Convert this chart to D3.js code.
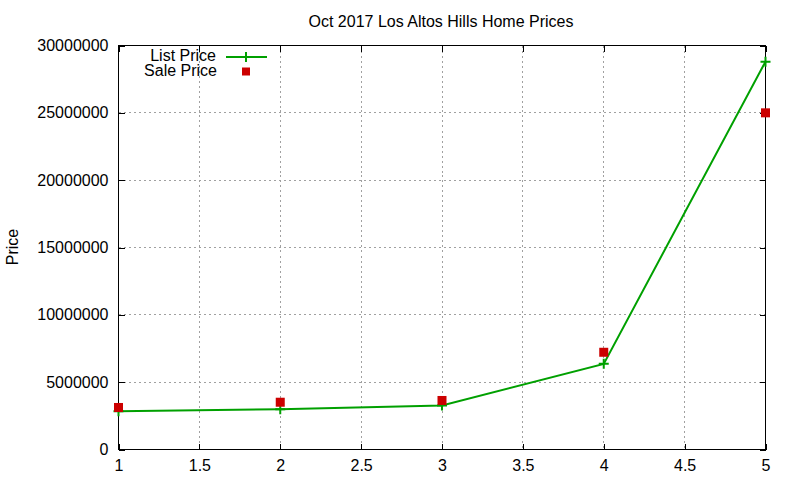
<!DOCTYPE html>
<html>
<head>
<meta charset="utf-8">
<script src="https://cdn.jsdelivr.net/npm/d3@7"></script>
<style>
  body { margin: 0; background: #fff; }
  text { font-family: "Liberation Sans", Arial, sans-serif; font-size: 16px; fill: #000; }
</style>
</head>
<body>
<script>
// data
var houses = [1, 2, 3, 4, 5];
var listPrice = [2840000, 2990000, 3270000, 6360000, 28800000];
var salePrice = [3120000, 3510000, 3640000, 7220000, 25000000];
var xTicks = [1, 1.5, 2, 2.5, 3, 3.5, 4, 4.5, 5];
var yTicks = [0, 5000000, 10000000, 15000000, 20000000, 25000000, 30000000];

var width = 800, height = 480;
var plotLeft = 118.5, plotRight = 765.5, plotTop = 45.5, plotBottom = 449.5;
var green = "#00a000", red = "#cc0000";

var svg = d3.select("body")
    .append("svg")
    .attr("width", width)
    .attr("height", height);

var x = d3.scaleLinear().domain([1, 5]).range([plotLeft, plotRight]);
var y = d3.scaleLinear().domain([0, 30000000]).range([plotBottom, plotTop]);

// grid
svg.selectAll("line.xgrid")
    .data(xTicks.slice(1, -1)).enter()
    .append("line")
    .attr("class", "xgrid")
    .attr("x1", function(d){ return x(d); })
    .attr("x2", function(d){ return x(d); })
    .attr("y1", plotTop)
    .attr("y2", plotBottom)
    .attr("stroke", "#a0a0a0")
    .attr("stroke-dasharray", "2,3")
    .attr("shape-rendering", "crispEdges");

svg.selectAll("line.ygrid")
    .data(yTicks.slice(1, -1)).enter()
    .append("line")
    .attr("class", "ygrid")
    .attr("x1", plotLeft)
    .attr("x2", plotRight)
    .attr("y1", function(d){ return y(d); })
    .attr("y2", function(d){ return y(d); })
    .attr("stroke", "#a0a0a0")
    .attr("stroke-dasharray", "2,3")
    .attr("shape-rendering", "crispEdges");

// axes (ticks inward, mirrored)
var fmt = function(d){ return String(d); };
svg.append("g")
    .attr("transform", "translate(0," + plotBottom + ")")
    .call(d3.axisBottom(x).tickValues(xTicks).tickFormat(fmt).tickSizeInner(-6).tickSizeOuter(0).tickPadding(10));
svg.append("g")
    .attr("transform", "translate(0," + plotTop + ")")
    .call(d3.axisTop(x).tickValues(xTicks).tickFormat("").tickSizeInner(-6).tickSizeOuter(0));
svg.append("g")
    .attr("transform", "translate(" + plotLeft + ",0)")
    .call(d3.axisLeft(y).tickValues(yTicks).tickFormat(fmt).tickSizeInner(-6).tickSizeOuter(0).tickPadding(10));
svg.append("g")
    .attr("transform", "translate(" + plotRight + ",0)")
    .call(d3.axisRight(y).tickValues(yTicks).tickFormat("").tickSizeInner(-6).tickSizeOuter(0));

svg.selectAll(".domain").remove();
svg.selectAll(".tick line").attr("stroke", "#000").attr("shape-rendering", "crispEdges");
svg.selectAll(".tick text")
    .attr("fill", "#000")
    .style("font-size", "16px")
    .style("font-family", "'Liberation Sans', Arial, sans-serif");

// frame
svg.append("rect")
    .attr("x", plotLeft)
    .attr("y", plotTop)
    .attr("width", plotRight - plotLeft)
    .attr("height", plotBottom - plotTop)
    .attr("fill", "none")
    .attr("stroke", "#000")
    .attr("stroke-width", 1)
    .attr("shape-rendering", "crispEdges");

// list price line
var line = d3.line()
    .x(function(d, i){ return x(houses[i]); })
    .y(function(d){ return y(d); });

svg.append("path")
    .datum(listPrice)
    .attr("d", line)
    .attr("fill", "none")
    .attr("stroke", green)
    .attr("stroke-width", 2);

function plus(g, cx, cy) {
    g.append("path")
        .attr("d", "M" + (cx - 5) + "," + cy + "H" + (cx + 5) + "M" + cx + "," + (cy - 5) + "V" + (cy + 5))
        .attr("stroke", green)
        .attr("stroke-width", 2)
        .attr("fill", "none");
}

listPrice.forEach(function(d, i){ plus(svg, x(houses[i]), y(d)); });

// sale price squares
svg.selectAll("rect.sale")
    .data(salePrice).enter()
    .append("rect")
    .attr("class", "sale")
    .attr("x", function(d, i){ return x(houses[i]) - 4.5; })
    .attr("y", function(d){ return y(d) - 4.5; })
    .attr("width", 9)
    .attr("height", 9)
    .attr("fill", red);

// title and axis label
svg.append("text")
    .attr("x", 441)
    .attr("y", 27)
    .attr("text-anchor", "middle")
    .text("Oct 2017 Los Altos Hills Home Prices");

svg.append("text")
    .attr("transform", "translate(18,247) rotate(-90)")
    .attr("text-anchor", "middle")
    .text("Price");

// legend
svg.append("text")
    .attr("x", 216)
    .attr("y", 61)
    .attr("text-anchor", "end")
    .text("List Price");
svg.append("line")
    .attr("x1", 226)
    .attr("x2", 267)
    .attr("y1", 57)
    .attr("y2", 57)
    .attr("stroke", green)
    .attr("stroke-width", 2);
plus(svg, 246, 57);

svg.append("text")
    .attr("x", 217)
    .attr("y", 76)
    .attr("text-anchor", "end")
    .text("Sale Price");
svg.append("rect")
    .attr("x", 242)
    .attr("y", 67.5)
    .attr("width", 8)
    .attr("height", 8)
    .attr("fill", red);
</script>
</body>
</html>
